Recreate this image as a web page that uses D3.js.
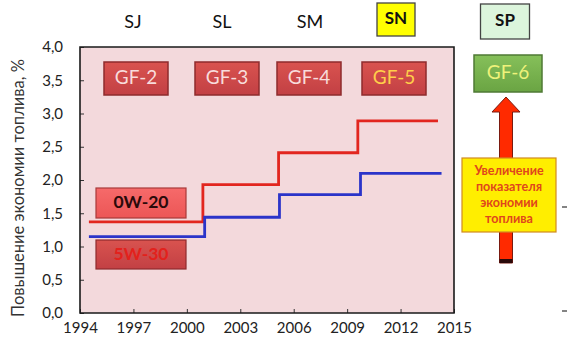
<!DOCTYPE html>
<html>
<head>
<meta charset="utf-8">
<script src="https://cdn.jsdelivr.net/npm/d3@7"></script>
<style>
  body { margin: 0; background: #fff; }
  text { font-family: Lato, "Liberation Sans", sans-serif; }
</style>
</head>
<body>
<div id="chart"></div>
<script>
// data
const redYears = [1994.5, 2000.9, 2005.15, 2009.6, 2014.1];
const redValues = [1.37, 1.93, 2.41, 2.89, 2.89];
const blueYears = [1994.5, 2001, 2005.2, 2009.75, 2014.3];
const blueValues = [1.15, 1.44, 1.78, 2.10, 2.10];
const yTicks = [0, 0.5, 1, 1.5, 2, 2.5, 3, 3.5, 4];
const xTicks = [1994, 1997, 2000, 2003, 2006, 2009, 2012, 2015];
const standards = ["SJ", "SL", "SM", "SN", "SP"];
const gfLabels = ["GF-2", "GF-3", "GF-4", "GF-5", "GF-6"];
const arrowText = ["Увеличение", "показателя", "экономии", "топлива"];

const W = 567, H = 352;
const margin = { top: 47, right: 113, bottom: 39, left: 80 };
const width = W - margin.left - margin.right,
      height = H - margin.top - margin.bottom;

const svg = d3.select("#chart").append("svg")
  .attr("width", W).attr("height", H);

const defs = svg.append("defs");
function grad(id, c1, c2) {
  const g = defs.append("linearGradient").attr("id", id)
    .attr("x1", 0).attr("y1", 0).attr("x2", 0).attr("y2", 1);
  g.append("stop").attr("offset", "0%").attr("stop-color", c1);
  g.append("stop").attr("offset", "100%").attr("stop-color", c2);
}
grad("gRed", "#d9534f", "#c24044");
grad("gGreen", "#86c05a", "#6aa443");
grad("gLight", "#f66a6a", "#ec5656");

const x = d3.scaleLinear().domain([1994, 2015]).range([0, width]);
const y = d3.scaleLinear().domain([0, 4]).range([height, 0]);

const g = svg.append("g").attr("transform", `translate(${margin.left},${margin.top})`);

// plot background
g.append("rect")
  .attr("width", width).attr("height", height)
  .attr("fill", "#f3d9dc");

// axes
g.append("g")
  .call(d3.axisLeft(y).tickValues(yTicks).tickSize(-4).tickPadding(17)
    .tickFormat(d => d3.format(".1f")(d).replace(".", ",")))
  .call(a => a.select(".domain").remove())
  .call(a => a.selectAll(".tick line").attr("stroke", "#333"))
  .call(a => a.selectAll("text").attr("font-size", 15).attr("fill", "#222"));

g.append("g")
  .attr("transform", `translate(0,${height})`)
  .call(d3.axisBottom(x).tickValues(xTicks).tickSize(-4).tickPadding(9).tickFormat(d3.format("d")))
  .call(a => a.select(".domain").remove())
  .call(a => a.selectAll(".tick line").attr("stroke", "#333"))
  .call(a => a.selectAll("text").attr("font-size", 15).attr("fill", "#222"));

// frame
g.append("path")
  .attr("d", `M0,0H${width}V${height}H0Z`)
  .attr("fill", "none").attr("stroke", "#1a1a1a").attr("stroke-width", 1.6);

// y title
svg.append("text")
  .attr("transform", `translate(20,${margin.top + height / 2 + 8}) rotate(-90)`)
  .attr("text-anchor", "middle")
  .attr("dominant-baseline", "middle")
  .attr("font-size", 16.5).attr("fill", "#333")
  .text("Повышение экономии топлива, %");

// step lines
const line = d3.line()
  .x(d => x(d[0])).y(d => y(d[1]))
  .curve(d3.curveStepAfter);

g.append("path")
  .datum(redYears.map((d, i) => [d, redValues[i]]))
  .attr("fill", "none").attr("stroke", "#e2261f").attr("stroke-width", 2.8)
  .attr("d", line);

g.append("path")
  .datum(blueYears.map((d, i) => [d, blueValues[i]]))
  .attr("fill", "none").attr("stroke", "#2b34c9").attr("stroke-width", 2.8)
  .attr("d", line);

// standards header
const stdX = [133, 222, 310, 396, 505];
standards.forEach((s, i) => {
  if (s === "SN" || s === "SP") {
    const bw = s === "SN" ? 38 : 49, bh = s === "SN" ? 33 : 35;
    svg.append("rect")
      .attr("x", stdX[i] - bw / 2).attr("y", s === "SN" ? 3 : 4)
      .attr("width", bw).attr("height", bh)
      .attr("fill", s === "SN" ? "#ffff00" : "#dcf5dc")
      .attr("stroke", "#444").attr("stroke-width", 1.3);
    svg.append("text")
      .attr("x", stdX[i]).attr("y", s === "SN" ? 20 : 22)
      .attr("text-anchor", "middle").attr("dominant-baseline", "middle")
      .attr("font-size", 17).attr("font-weight", "bold").attr("fill", "#111")
      .text(s);
  } else {
    svg.append("text")
      .attr("x", stdX[i]).attr("y", 23)
      .attr("text-anchor", "middle").attr("dominant-baseline", "middle")
      .attr("font-size", 18).attr("fill", "#111")
      .text(s);
  }
});

// GF boxes
const gfX = [104, 195, 277, 362, 474];
gfLabels.forEach((s, i) => {
  const green = s === "GF-6";
  const bw = green ? 68 : 64, bh = green ? 37 : 33, by = green ? 55 : 62;
  svg.append("rect")
    .attr("x", gfX[i]).attr("y", by).attr("width", bw).attr("height", bh)
    .attr("fill", green ? "url(#gGreen)" : "url(#gRed)")
    .attr("stroke", green ? "#4f7a35" : "#8e2b2d").attr("stroke-width", 1.5);
  svg.append("text")
    .attr("x", gfX[i] + bw / 2).attr("y", by + bh / 2 + 1)
    .attr("text-anchor", "middle").attr("dominant-baseline", "middle")
    .attr("font-size", 19)
    .attr("fill", green ? "#eef27a" : (s === "GF-5" ? "#ffcf4a" : "#f8dcdc"))
    .text(s);
});

// oil grade boxes
svg.append("rect")
  .attr("x", 96).attr("y", 188).attr("width", 90).attr("height", 30)
  .attr("fill", "url(#gLight)").attr("stroke", "#a93a3a").attr("stroke-width", 1.2);
svg.append("text")
  .attr("x", 141).attr("y", 204)
  .attr("text-anchor", "middle").attr("dominant-baseline", "middle")
  .attr("font-size", 17.5).attr("font-weight", "bold").attr("fill", "#2a0a0a")
  .text("0W-20");
svg.append("rect")
  .attr("x", 96).attr("y", 240).attr("width", 90).attr("height", 29)
  .attr("fill", "url(#gRed)").attr("stroke", "#8e2b2d").attr("stroke-width", 1.2);
svg.append("text")
  .attr("x", 141).attr("y", 256)
  .attr("text-anchor", "middle").attr("dominant-baseline", "middle")
  .attr("font-size", 17.5).attr("font-weight", "bold").attr("fill", "#e3211c")
  .text("5W-30");

// arrow
svg.append("path")
  .attr("d", "M506,97 L520,112 L512.5,112 L512.5,263 L499.5,263 L499.5,112 L492,112 Z")
  .attr("fill", "#ff2a00").attr("stroke", "#7a1a10").attr("stroke-width", 1);
svg.append("rect")
  .attr("x", 499.5).attr("y", 259).attr("width", 13).attr("height", 4)
  .attr("fill", "#2a0a0a");

svg.append("rect")
  .attr("x", 462).attr("y", 158).attr("width", 94).attr("height", 74)
  .attr("fill", "#ffee00").attr("stroke", "#d08a20").attr("stroke-width", 1.2);
arrowText.forEach((t, i) => {
  svg.append("text")
    .attr("x", 509).attr("y", 172 + i * 16)
    .attr("text-anchor", "middle").attr("dominant-baseline", "middle")
    .attr("font-size", 12.5).attr("font-weight", "bold").attr("fill", "#e0461c")
    .text(t);
});

// cut-off marks at right edge
[207, 311].forEach(v => {
  svg.append("line")
    .attr("x1", 562).attr("x2", 567).attr("y1", v).attr("y2", v)
    .attr("stroke", "#333").attr("stroke-width", 1.2);
});
</script>
</body>
</html>
